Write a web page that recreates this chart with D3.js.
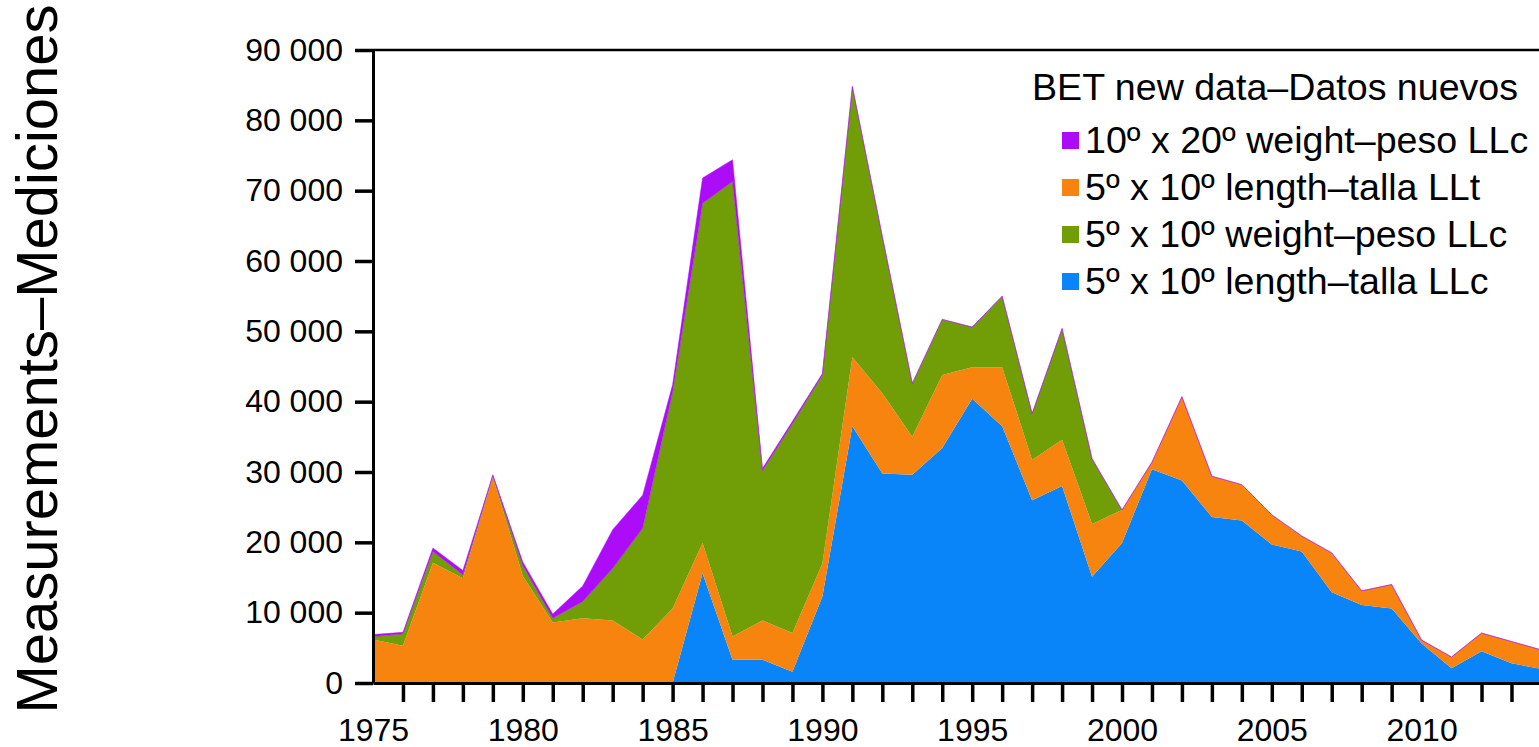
<!DOCTYPE html>
<html>
  <head>
    <meta charset="utf-8">
    <title>BET measurements</title>
    <script src="https://d3js.org/d3.v7.min.js"></script>
    <style>
      body { margin: 0; background: #fff; }
      text { font-family: Arial, "Liberation Sans", sans-serif; fill: #000; }
    </style>
  </head>
  <body>
    <script>
      var width = 1539;
      var height = 747;

      // data
      var years = d3.range(1975, 2015);
      var lengthLLc = [0, 0, 0, 0, 0, 0, 0, 0, 0, 0,
        0, 15600, 3300, 3300, 1600, 12300, 36500, 29800, 29600, 33400,
        40400, 36500, 26000, 28000, 15100, 19900, 30400, 28800, 23600, 23100,
        19700, 18700, 12900, 11100, 10600, 5600, 2100, 4500, 2800, 2000];
      var lengthLLt = [6200, 5300, 17100, 14900, 29300, 15200, 8600, 9200, 8900, 6200,
        10600, 4300, 3300, 5600, 5500, 4700, 9800, 11400, 5400, 10400,
        4500, 8400, 5700, 6600, 7500, 4700, 1000, 11900, 5800, 5100,
        4200, 2200, 5600, 2000, 3400, 500, 1600, 2600, 3100, 2700];
      var weightLLc = [400, 1700, 1600, 500, 200, 1500, 600, 2400, 7400, 15800,
        30800, 48300, 64700, 21300, 29800, 26800, 38500, 22300, 7600, 7900,
        5700, 10100, 6600, 15800, 9300, 0, 0, 0, 0, 0,
        0, 0, 0, 0, 0, 0, 0, 0, 0, 0];
      var weight1020 = [300, 200, 500, 600, 100, 500, 600, 2200, 5500, 4700,
        1000, 3600, 3100, 300, 300, 200, 0, 0, 0, 0,
        0, 0, 0, 0, 0, 0, 0, 0, 0, 0,
        0, 0, 0, 0, 0, 0, 0, 0, 0, 0];

      var keys = ["blue", "orange", "green", "purple"];
      var colors = { blue: "#0a84f9", orange: "#f7840f", green: "#719e06", purple: "#ad0cf8" };
      var labels = {
        purple: "10º x 20º weight–peso LLc",
        orange: "5º x 10º length–talla LLt",
        green: "5º x 10º weight–peso LLc",
        blue: "5º x 10º length–talla LLc"
      };
      var legendOrder = ["purple", "orange", "green", "blue"];
      var yTicks = d3.range(0, 90001, 10000);

      var table = years.map(function(y, i) {
        return { year: y, blue: lengthLLc[i], orange: lengthLLt[i], green: weightLLc[i], purple: weight1020[i] };
      });

      var svg = d3.select("body").append("svg").attr("width", width).attr("height", height);

      // scales
      var x = d3.scaleLinear().domain([1975, 2014]).range([373, 373 + 39 * 29.96]);
      var y = d3.scaleLinear().domain([0, 90000]).range([683, 50]);

      var series = d3.stack().keys(keys)(table);

      var area = d3.area()
        .x(function(d) { return x(d.data.year); })
        .y0(function(d) { return y(d[0]); })
        .y1(function(d) { return y(d[1]); });

      svg.append("g")
        .selectAll("path")
        .data(series)
        .enter()
        .append("path")
        .attr("d", area)
        .attr("fill", function(d) { return colors[d.key]; })
        .attr("stroke", function(d) { return d.key == "purple" ? colors.purple : "none"; })
        .attr("stroke-width", 0.8)
        .attr("stroke-opacity", 0.6);

      // top frame line
      svg.append("line")
        .attr("x1", 373).attr("x2", width)
        .attr("y1", 50).attr("y2", 50)
        .attr("stroke", "#000").attr("stroke-width", 2.5);

      // axes
      var fmt = function(d) { return d3.format(",")(d).replace(/,/g, " "); };

      var yAxis = svg.append("g")
        .attr("transform", "translate(373,0)")
        .call(d3.axisLeft(y).tickValues(yTicks).tickFormat(fmt).tickSize(18).tickSizeOuter(0).tickPadding(12));
      yAxis.selectAll("text").style("font-size", "32px");

      var xAxis = svg.append("g")
        .attr("transform", "translate(0,683)")
        .call(d3.axisBottom(x).tickValues(years)
          .tickFormat(function(d) { return d % 5 == 0 ? d : ""; })
          .tickSize(19).tickSizeOuter(0).tickPadding(16));
      xAxis.selectAll("text").style("font-size", "32px");
      xAxis.selectAll(".tick").filter(function(d) { return d == 1975; }).select("line").remove();

      svg.selectAll(".domain").attr("stroke-width", 3);
      svg.selectAll(".tick line").attr("stroke-width", 3.5);

      // y title
      svg.append("text")
        .attr("transform", "translate(57,359) rotate(-90)")
        .attr("text-anchor", "middle")
        .style("font-size", "58px")
        .text("Measurements–Mediciones");

      // legend
      var legend = svg.append("g");
      legend.append("text")
        .attr("x", 1032).attr("y", 100)
        .style("font-size", "37.6px")
        .text("BET new data–Datos nuevos");

      var item = legend.selectAll("g.item")
        .data(legendOrder)
        .enter()
        .append("g")
        .attr("class", "item")
        .attr("transform", function(d, i) { return "translate(0," + (i * 47) + ")"; });
      item.append("rect")
        .attr("x", 1062).attr("y", 132)
        .attr("width", 17).attr("height", 17)
        .attr("fill", function(d) { return colors[d]; });
      item.append("text")
        .attr("x", 1085).attr("y", 153)
        .style("font-size", "37.6px")
        .text(function(d) { return labels[d]; });
    </script>
  </body>
</html>
